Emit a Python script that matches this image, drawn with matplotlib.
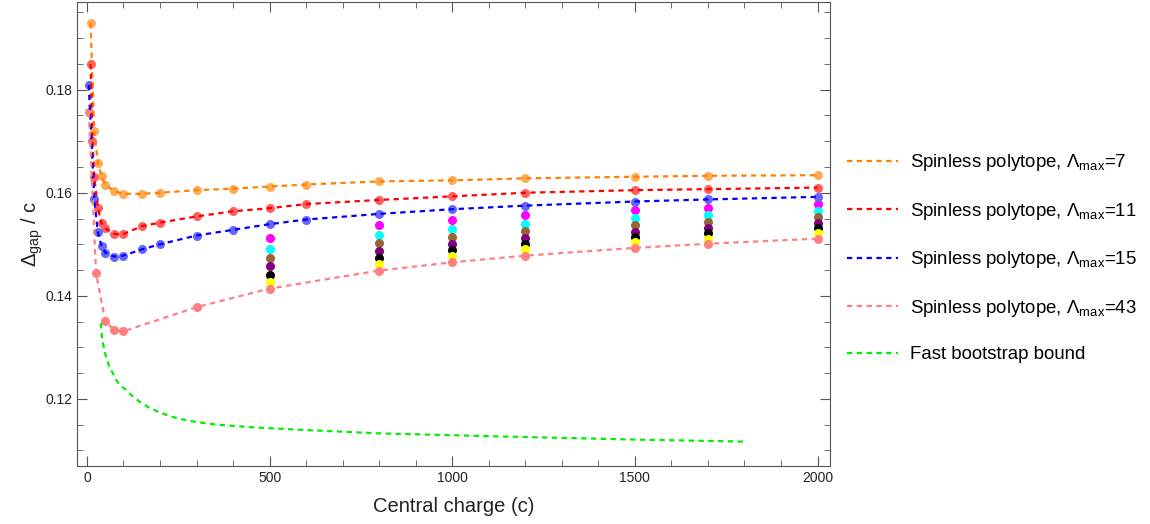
import matplotlib
matplotlib.use("Agg")
import matplotlib.pyplot as plt
from matplotlib.ticker import MultipleLocator

plt.rcParams['font.family'] = ['Liberation Sans', 'DejaVu Sans']
plt.rcParams['mathtext.fontset'] = 'custom'
plt.rcParams['mathtext.rm'] = 'Liberation Sans'
plt.rcParams['mathtext.it'] = 'Liberation Sans'

# spinless polytope bounds, Lambda_max = 7
c_l7 = [10, 20, 30, 40, 50, 75, 100, 150, 200, 300, 400, 500, 600, 800, 1000, 1200, 1500, 1700, 2000]
g_l7 = [0.1929, 0.1720, 0.1658, 0.1632, 0.1616, 0.1603, 0.1598, 0.1598, 0.1600, 0.1605, 0.1608,
        0.1612, 0.1616, 0.1622, 0.1624, 0.1628, 0.1631, 0.1633, 0.1634]

# Lambda_max = 11
c_l11 = [10, 15, 20, 30, 40, 50, 75, 100, 150, 200, 300, 400, 500, 600, 800, 1000, 1200, 1500, 1700, 2000]
g_l11 = [0.1850, 0.1700, 0.1630, 0.1570, 0.1541, 0.1531, 0.1520, 0.1520, 0.1535, 0.1542, 0.1554, 0.1564,
         0.1570, 0.1578, 0.1586, 0.1593, 0.1600, 0.1605, 0.1607, 0.1610]

# Lambda_max = 15
c_l15 = [5, 20, 30, 40, 50, 75, 100, 150, 200, 300, 400, 500, 600, 800, 1000, 1200, 1500, 1700, 2000]
g_l15 = [0.1809, 0.1588, 0.1523, 0.1497, 0.1484, 0.1476, 0.1478, 0.1490, 0.1500, 0.1517, 0.1528,
         0.1539, 0.1548, 0.1559, 0.1568, 0.1575, 0.1583, 0.1587, 0.1592]

# Lambda_max = 43
c_l43 = [5, 25, 50, 75, 100, 300, 500, 800, 1000, 1200, 1500, 1700, 2000]
g_l43 = [0.1756, 0.1444, 0.1352, 0.1333, 0.1331, 0.1378, 0.1414, 0.1449, 0.1465, 0.1478, 0.1493, 0.1501, 0.1511]

# intermediate Lambda_max points (no legend entries)
c_mid = [500, 800, 1000, 1200, 1500, 1700, 2000]
g_magenta = [0.1513, 0.1538, 0.1547, 0.1556, 0.1566, 0.1570, 0.1578]
g_cyan = [0.1491, 0.1518, 0.1530, 0.1539, 0.1551, 0.1557, 0.1565]
g_brown = [0.1473, 0.1502, 0.1514, 0.1525, 0.1537, 0.1544, 0.1552]
g_purple = [0.1457, 0.1487, 0.1501, 0.1512, 0.1524, 0.1532, 0.1541]
g_black = [0.1441, 0.1474, 0.1489, 0.1500, 0.1514, 0.1522, 0.1531]
g_yellow = [0.1427, 0.1461, 0.1477, 0.1490, 0.1504, 0.1511, 0.1521]

# fast bootstrap bound
c_fast = [38, 42, 50, 60, 70, 79, 90, 106, 125, 143, 170, 198, 230, 261, 300, 354, 450, 583,
          800, 1133, 1500, 1800]
g_fast = [0.1347, 0.1314, 0.1288, 0.1265, 0.1251, 0.1238, 0.1227, 0.1218, 0.1205, 0.1195,
          0.1183, 0.1174, 0.1166, 0.1160, 0.1155, 0.1150, 0.1145, 0.1140, 0.1133, 0.1127,
          0.1121, 0.1117]

fig = plt.figure(figsize=(11.5, 5.24), dpi=100)
ax = fig.add_axes([0.067, 0.111, 0.655, 0.885])

dash = (0, (2.4, 2.0))
ms = 6.5

series = [
    (c_l7, g_l7, '#ff8000', '#ffaa55', r'Spinless polytope, $\Lambda_{\mathrm{max}}$=7'),
    (c_l11, g_l11, '#ff0000', '#ff6060', r'Spinless polytope, $\Lambda_{\mathrm{max}}$=11'),
    (c_l15, g_l15, '#0000ff', '#6666ff', r'Spinless polytope, $\Lambda_{\mathrm{max}}$=15'),
    (c_l43, g_l43, '#ff8080', '#ff8080', r'Spinless polytope, $\Lambda_{\mathrm{max}}$=43'),
]

for gs, col in [(g_magenta, '#ff00ff'), (g_cyan, '#00ffff'), (g_brown, '#996633'),
                (g_purple, '#800080'), (g_black, '#000000'), (g_yellow, '#ffff00')]:
    ax.plot(c_mid, gs, 'o', color=col, ms=ms, mec='none', zorder=2)

handles = []
for cs, gs, lc, pc, lab in series:
    ax.plot(cs, gs, 'o', color=pc, ms=ms, mec='none', zorder=3)
    h, = ax.plot(cs, gs, linestyle=dash, color=lc, lw=1.6, label=lab, zorder=4)
    handles.append(h)

h, = ax.plot(c_fast, g_fast, linestyle=dash, color='#00ee00', lw=1.6, label='Fast bootstrap bound', zorder=4)
handles.append(h)

ax.set_xlim(-27, 2035)
ax.set_ylim(0.107, 0.197)
ax.xaxis.set_major_locator(MultipleLocator(500))
ax.xaxis.set_minor_locator(MultipleLocator(100))
ax.yaxis.set_major_locator(MultipleLocator(0.02))
ax.yaxis.set_minor_locator(MultipleLocator(0.005))
ax.tick_params(which='both', direction='in', top=True, right=True, colors='#555555',
               labelcolor='#222222', labelsize=10)
ax.tick_params(which='major', length=7)
ax.tick_params(which='minor', length=4)
for s in ax.spines.values():
    s.set_color('#555555')

ax.set_xlabel('Central charge (c)', fontsize=14.5, color='#222222', labelpad=9)
ax.set_ylabel(r'$\Delta_{\mathrm{gap}}$ / c', fontsize=14.5, color='#222222', labelpad=0)

fig.legend(handles=handles, loc='center left', bbox_to_anchor=(0.722, 0.508), frameon=False,
           fontsize=13.4, handlelength=2.75, handletextpad=0.62, labelspacing=1.48)

fig.savefig('out.png', dpi=100)
